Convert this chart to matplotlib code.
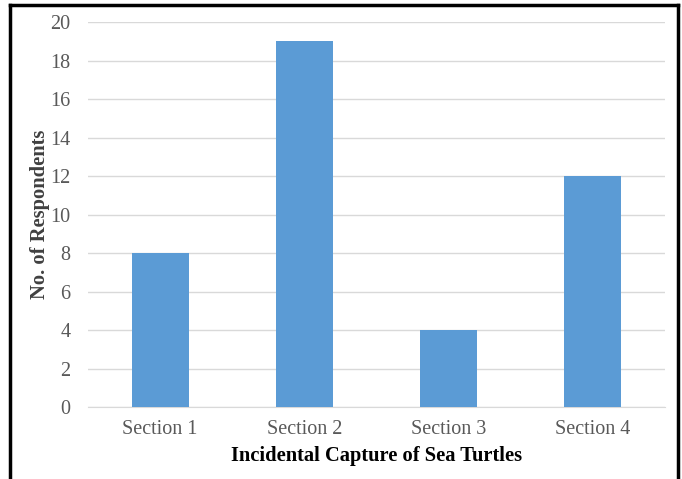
import matplotlib
matplotlib.use('Agg')
import matplotlib.pyplot as plt
from matplotlib.lines import Line2D

# data
sections = ['Section 1', 'Section 2', 'Section 3', 'Section 4']
respondents = [8, 19, 4, 12]
y_ticks = [0, 2, 4, 6, 8, 10, 12, 14, 16, 18, 20]

plt.rcParams['font.family'] = ['Liberation Serif', 'DejaVu Serif']

fig = plt.figure(figsize=(6.82, 4.79), dpi=100)
ax = fig.add_axes([0.129, 0.150, 0.846, 0.804])

x = range(len(sections))
ax.bar(x, respondents, width=0.395, color='#5B9BD5', zorder=3)

ax.set_xlim(-0.5, len(sections) - 0.5)
ax.set_ylim(0, 20)
ax.set_yticks(y_ticks)
ax.set_xticks(list(x))
ax.set_xticklabels(sections)

ax.grid(axis='y', color='#D9D9D9', linewidth=1, zorder=0)
for side in ['top', 'right', 'left']:
    ax.spines[side].set_visible(False)
ax.spines['bottom'].set_color('#D9D9D9')
ax.tick_params(axis='both', length=0, labelsize=14.5, labelcolor='#595959')
ax.tick_params(axis='x', pad=9)
ax.tick_params(axis='y', pad=12.5)

ax.set_xlabel('Incidental Capture of Sea Turtles', fontsize=14.8,
              fontweight='bold', color='black', labelpad=5)
ax.set_ylabel('No. of Respondents', fontsize=14.8, fontweight='bold',
              color='#404040')
ax.yaxis.set_label_coords(-0.066, 0.5)

# black frame around the figure (open at the bottom)
W, H = 682.0, 479.0
lw = 2.5
fig.add_artist(Line2D([10 / W, 10 / W], [0, 1 - 5 / H], color='black', lw=lw))
fig.add_artist(Line2D([10 / W, 678 / W], [1 - 5 / H, 1 - 5 / H], color='black', lw=lw))
fig.add_artist(Line2D([678 / W, 678 / W], [0, 1 - 5 / H], color='black', lw=lw))

fig.savefig('out.png', dpi=100)
